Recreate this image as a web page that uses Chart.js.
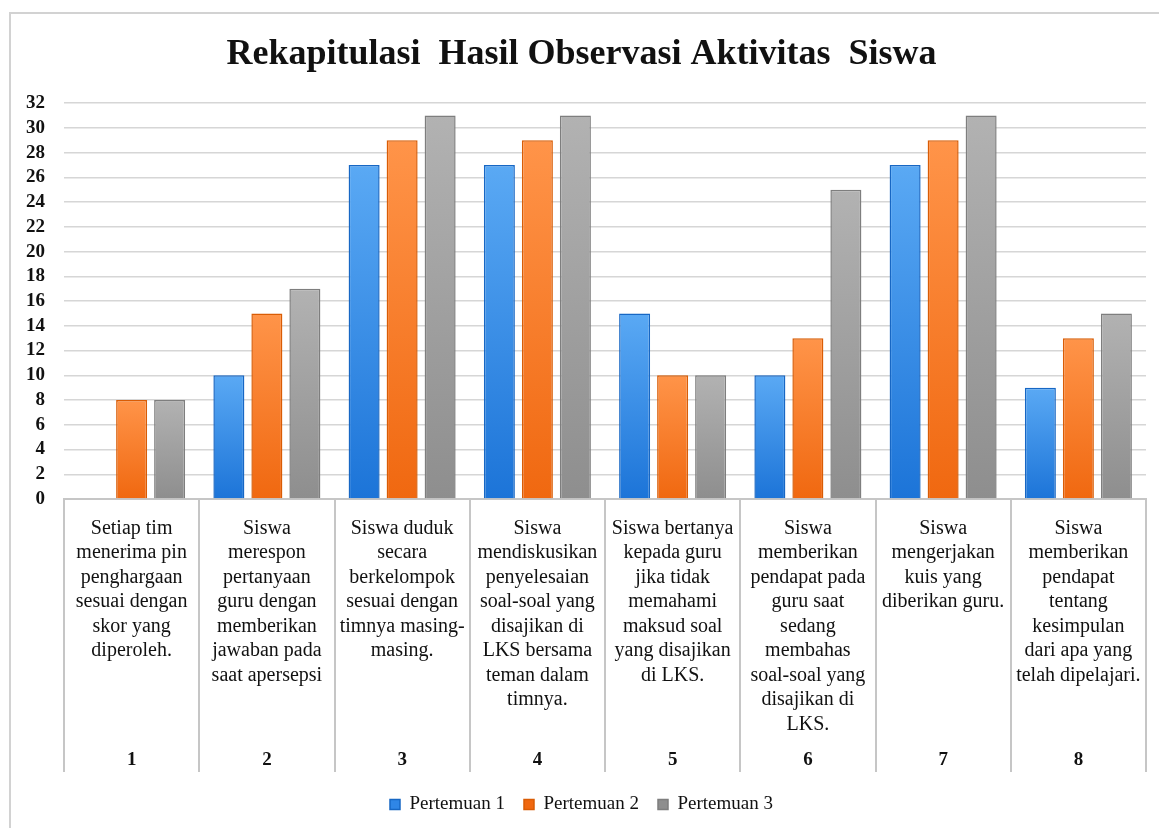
<!DOCTYPE html>
<html>
<head>
<meta charset="utf-8">
<script src="https://cdn.jsdelivr.net/npm/chart.js@4.4.0/dist/chart.umd.min.js"></script>
<style>
  html, body { margin: 0; padding: 0; background: #fff; overflow: hidden; }
  #wrap { position: relative; width: 1159px; height: 828px; overflow: hidden; }
  #frame { position: absolute; left: 9px; top: 12px; width: 1200px; height: 900px; border: 2px solid #d2d2d2; box-sizing: border-box; }
  #c { position: absolute; left: 0; top: 0; }
</style>
</head>
<body>
<div id="wrap">
  <div id="frame"></div>
  <canvas id="c" width="1159" height="828"></canvas>
</div>
<script>
// Item numbers shown in the bottom row of the category table
const itemNumbers = ['1', '2', '3', '4', '5', '6', '7', '8'];

// Observed activity for each item, one string per printed line
const itemDescriptions = [
  ['Setiap tim', 'menerima pin', 'penghargaan', 'sesuai dengan', 'skor yang', 'diperoleh.'],
  ['Siswa', 'merespon', 'pertanyaan', 'guru dengan', 'memberikan', 'jawaban pada', 'saat apersepsi'],
  ['Siswa duduk', 'secara', 'berkelompok', 'sesuai dengan', 'timnya masing-', 'masing.'],
  ['Siswa', 'mendiskusikan', 'penyelesaian', 'soal-soal yang', 'disajikan di', 'LKS bersama', 'teman dalam', 'timnya.'],
  ['Siswa bertanya', 'kepada guru', 'jika tidak', 'memahami', 'maksud soal', 'yang disajikan', 'di LKS.'],
  ['Siswa', 'memberikan', 'pendapat pada', 'guru saat', 'sedang', 'membahas', 'soal-soal yang', 'disajikan di', 'LKS.'],
  ['Siswa', 'mengerjakan', 'kuis yang', 'diberikan guru.'],
  ['Siswa', 'memberikan', 'pendapat', 'tentang', 'kesimpulan', 'dari apa yang', 'telah dipelajari.']
];

// Scores per meeting
const seriesNames = ['Pertemuan 1', 'Pertemuan 2', 'Pertemuan 3'];
const pertemuan1 = [0, 10, 27, 27, 15, 10, 27, 9];
const pertemuan2 = [8, 15, 29, 29, 10, 13, 29, 13];
const pertemuan3 = [8, 17, 31, 31, 10, 25, 31, 15];

// Value axis range
const yMin = 0;
const yMax = 32;
const yStep = 2;

const SERIF = "'Liberation Serif', 'Times New Roman', serif";

// Vertical gradient per bar: lighter at the top, deeper at the base
function barFill(topColor, baseColor, solid) {
  return (ctx) => {
    const chart = ctx.chart;
    const y = chart.scales && chart.scales.y;
    if (ctx.type !== 'data' || !y || !chart.chartArea) return solid;
    const yTop = y.getPixelForValue(ctx.raw);
    const yBase = y.getPixelForValue(0);
    if (!(yBase > yTop)) return solid;
    const g = chart.ctx.createLinearGradient(0, yTop, 0, yBase);
    g.addColorStop(0, topColor);
    g.addColorStop(1, baseColor);
    return g;
  };
}

const palette = [
  { top: '#5aa9f4', base: '#1c74d8', solid: '#2f86e6', edge: '#1767c4' },
  { top: '#ff9449', base: '#f06810', solid: '#f7791f', edge: '#d95c05' },
  { top: '#b2b2b2', base: '#8e8e8e', solid: '#a0a0a0', edge: '#7e7e7e' }
];

const seriesValues = [pertemuan1, pertemuan2, pertemuan3];

const datasets = seriesValues.map((vals, i) => ({
  label: seriesNames[i],
  data: vals,
  backgroundColor: barFill(palette[i].top, palette[i].base, palette[i].solid),
  borderColor: palette[i].edge,
  borderWidth: 1.5,
  borderSkipped: 'bottom',
  categoryPercentage: 0.843,
  barPercentage: 0.816
}));

new Chart(document.getElementById('c'), {
  type: 'bar',
  data: { labels: itemNumbers, datasets },
  options: {
    responsive: false,
    devicePixelRatio: 1,
    animation: false,
    layout: { padding: { left: 17, right: 13, top: 0, bottom: 4 } },
    plugins: {
      title: {
        display: true,
        text: 'Rekapitulasi  Hasil Observasi Aktivitas  Siswa',
        color: '#111',
        font: { family: SERIF, size: 36, weight: 'bold' },
        padding: { top: 33, bottom: 27 }
      },
      legend: {
        position: 'bottom',
        labels: {
          boxWidth: 10,
          boxHeight: 10,
          padding: 19,
          color: '#111',
          font: { family: SERIF, size: 19 }
        }
      },
      tooltip: { enabled: false }
    },
    scales: {
      y: {
        min: yMin,
        max: yMax,
        ticks: {
          stepSize: yStep,
          autoSkip: false,
          padding: 19,
          color: '#111',
          font: { family: SERIF, size: 19, weight: 'bold' }
        },
        grid: { color: '#d6d6d6', lineWidth: 1.5, drawTicks: false },
        border: { display: false },
        afterFit: (s) => { s.width = 64 - 17; }
      },
      x: {
        position: 'bottom',
        offset: true,
        grid: {
          offset: true,
          drawOnChartArea: false,
          drawTicks: true,
          tickLength: 273,
          color: '#c6c6c6',
          lineWidth: 2
        },
        border: { display: true, color: '#c6c6c6', width: 2 },
        ticks: {
          autoSkip: false,
          maxRotation: 0,
          minRotation: 0,
          padding: -256,
          color: '#111',
          font: { family: SERIF, size: 20, lineHeight: 1.225 },
          callback: (value, index) => itemDescriptions[index]
        },
        afterFit: (s) => { s.height = 237; }
      },
      x2: {
        type: 'category',
        labels: itemNumbers,
        position: 'bottom',
        offset: true,
        grid: { display: false, drawTicks: false },
        border: { display: false },
        ticks: {
          autoSkip: false,
          maxRotation: 0,
          padding: 13,
          color: '#111',
          font: { family: SERIF, size: 19, weight: 'bold' }
        },
        afterFit: (s) => { s.height = 40; }
      }
    }
  }
});
</script>
</body>
</html>
